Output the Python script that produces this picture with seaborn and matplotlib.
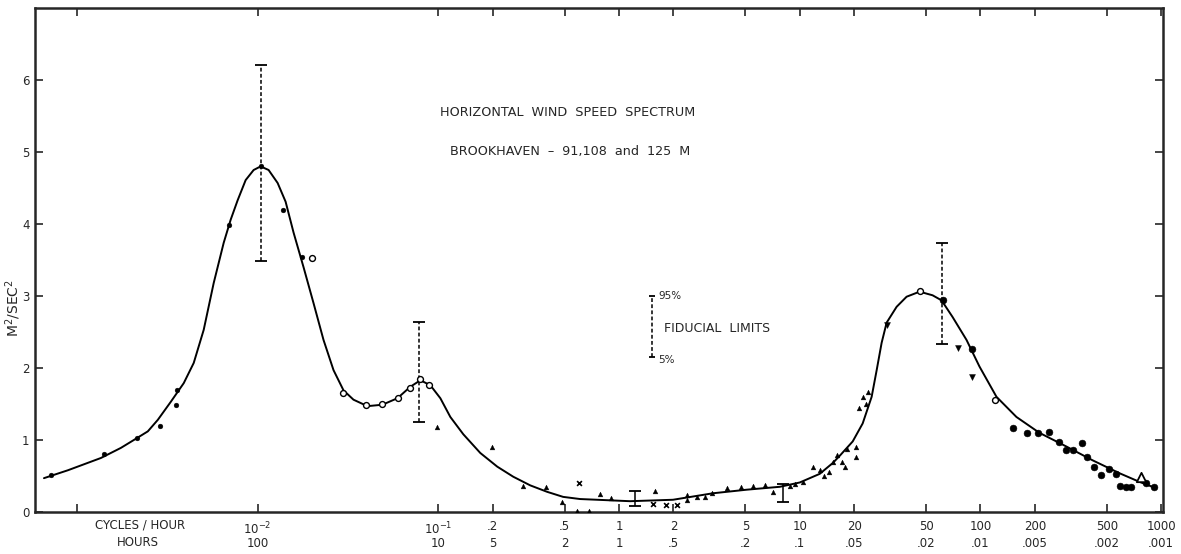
import numpy as np
import pandas as pd
import matplotlib
matplotlib.use('Agg')
import matplotlib.pyplot as plt
from matplotlib.ticker import NullLocator
import seaborn as sns

sns.set_style('ticks')
plt.rcParams['font.family'] = ['DejaVu Sans']

mFont = 8.5

# smooth spectrum curve (cycles/hour, m^2/s^2)
curve_f = [6.57e-4, 8.92e-4, 1.357e-3, 1.750e-3, 2.065e-3, 2.468e-3, 2.803e-3, 3.306e-3,
           3.901e-3, 4.429e-3, 5.030e-3, 5.713e-3, 6.491e-3, 7.094e-3, 7.752e-3, 8.585e-3,
           9.504e-3, 0.01039, 0.01150, 0.01290, 0.01428, 0.01581, 0.01795, 0.02039,
           0.02315, 0.02630, 0.02986, 0.03391, 0.04052, 0.04903, 0.05936, 0.07004,
           0.07956, 0.09033, 0.1026, 0.1165, 0.1374, 0.1706, 0.2118, 0.2597, 0.3224,
           0.4001, 0.4904, 0.6087, 0.7559, 1.150, 1.988, 3.306, 5.095, 7.754, 10.0,
           12.90, 15.22, 16.63, 19.63, 22.29, 24.99, 26.64, 28.38, 30.25, 34.35, 39.01,
           46.03, 54.30, 60.87, 70.01, 83.70, 98.74, 122.6, 158.1, 211.8, 298.6, 415.7,
           586.1, 755.9, 938.4]
curve_s = [0.47, 0.58, 0.75, 0.89, 1.0, 1.12, 1.28, 1.53,
           1.79, 2.07, 2.53, 3.18, 3.74, 4.06, 4.33, 4.61,
           4.75, 4.80, 4.75, 4.57, 4.31, 3.88, 3.40, 2.90,
           2.39, 1.97, 1.69, 1.56, 1.47, 1.49, 1.58, 1.74,
           1.83, 1.76, 1.58, 1.32, 1.08, 0.82, 0.63, 0.49, 0.37,
           0.28, 0.21, 0.18, 0.17, 0.15, 0.17, 0.26, 0.31, 0.35, 0.41,
           0.53, 0.68, 0.78, 0.98, 1.23, 1.60, 1.97, 2.35, 2.63, 2.85, 2.99,
           3.06, 3.01, 2.94, 2.71, 2.39, 2.02, 1.60, 1.32, 1.10, 0.91, 0.72,
           0.54, 0.42, 0.33]

# observed points, by symbol
dot_f = [7.18e-4, 1.41e-3, 2.14e-3, 2.87e-3, 3.52e-3, 3.57e-3, 6.92e-3, 0.0104, 0.0139, 0.0177]
dot_s = [0.51, 0.80, 1.03, 1.19, 1.49, 1.70, 3.99, 4.80, 4.20, 3.54]

open_f = [0.0201, 0.0295, 0.040, 0.049, 0.060, 0.070, 0.0796, 0.0891, 46.0, 121]
open_s = [3.53, 1.65, 1.49, 1.50, 1.58, 1.72, 1.85, 1.76, 3.07, 1.56]

tri_f = [0.0987, 0.199, 0.295, 0.395, 0.484, 0.586, 0.682, 0.785, 0.903, 1.58, 2.38,
         2.38, 2.70, 2.99, 3.27, 3.95, 4.72, 5.50, 6.41, 7.10, 8.81, 9.38, 10.4, 11.9,
         12.9, 13.6, 14.5, 15.2, 16.0, 17.1, 17.9, 18.2, 20.4, 20.6, 21.4, 22.3, 23.4,
         24.0]
tri_s = [1.18, 0.90, 0.36, 0.35, 0.14, 0.02, 0.02, 0.25, 0.19, 0.29, 0.24,
         0.17, 0.21, 0.21, 0.26, 0.33, 0.35, 0.36, 0.37, 0.28, 0.36, 0.39, 0.41, 0.62,
         0.58, 0.50, 0.56, 0.69, 0.79, 0.69, 0.63, 0.87, 0.77, 0.90, 1.44, 1.60, 1.50,
         1.67]

x_f = [0.601, 1.54, 1.82, 2.09]
x_s = [0.40, 0.11, 0.10, 0.10]

down_f = [30.3, 75.5, 90.3]
down_s = [2.60, 2.28, 1.88]

big_f = [61.7, 90.3, 152, 182, 209, 238, 273, 299, 327, 366, 390, 426, 466, 516,
         564, 593, 641, 683, 826, 914]
big_s = [2.94, 2.26, 1.17, 1.10, 1.10, 1.11, 0.97, 0.86, 0.86, 0.96, 0.76, 0.62,
         0.51, 0.60, 0.53, 0.36, 0.35, 0.35, 0.40, 0.35]

otri_f = [776]
otri_s = [0.49]

# fiducial limits
err_f = [0.0104, 0.0785, 61.6]
err_lo = [3.49, 1.25, 2.33]
err_hi = [6.21, 2.64, 3.74]
small_err_f = [1.22, 8.05]
small_err_lo = [0.08, 0.14]
small_err_hi = [0.29, 0.39]
key_f = [1.52]
key_lo = [2.15]
key_hi = [3.0]

tick_f = [1e-3, 1e-2, 0.1, 0.2, 0.5, 1, 2, 5, 10, 20, 50, 100, 200, 500, 1000]
tick_cph = ['', '10$^{-2}$', '10$^{-1}$', '.2', '.5', '1', '2', '5', '10', '20', '50',
            '100', '200', '500', '1000']
tick_hours = ['', '100', '10', '5', '2', '1', '.5', '.2', '.1', '.05', '.02', '.01',
              '.005', '.002', '.001']

fig = plt.figure(figsize=(11.81, 5.54), dpi=100)
ax = fig.add_axes([35/1181, 42/554, 1128/1181, 504/554])

sns.lineplot(x=curve_f, y=curve_s, color='black', lw=1.4, ax=ax, sort=False, estimator=None)

sc = dict(ax=ax, color='black', edgecolor='black', legend=False, zorder=3)
sns.scatterplot(x=dot_f, y=dot_s, marker='o', s=12, **sc)
sns.scatterplot(x=open_f, y=open_s, marker='o', s=18, facecolor='white', linewidth=1.0,
                ax=ax, edgecolor='black', legend=False, zorder=3)
sns.scatterplot(x=tri_f, y=tri_s, marker='^', s=12, **sc)
sns.scatterplot(x=x_f, y=x_s, marker='x', s=12, linewidth=1.2, ax=ax, color='black',
                legend=False, zorder=3)
sns.scatterplot(x=down_f, y=down_s, marker='v', s=18, **sc)
sns.scatterplot(x=big_f, y=big_s, marker='o', s=24, **sc)
sns.scatterplot(x=otri_f, y=otri_s, marker='^', s=45, facecolor='white', linewidth=1.3,
                ax=ax, edgecolor='black', legend=False, zorder=3)

def fid_bars(f, lo, hi, dashed, cap):
    f = np.array(f)
    lo = np.array(lo)
    hi = np.array(hi)
    mid = (lo + hi) / 2
    eb = ax.errorbar(f, mid, yerr=[mid - lo, hi - mid], fmt='none', ecolor='black',
                     elinewidth=1.1, capsize=cap, capthick=1.3, zorder=2)
    if dashed:
        eb[2][0].set_linestyle((0, (2.5, 1.5)))

fid_bars(err_f, err_lo, err_hi, True, 4)
fid_bars(small_err_f, small_err_lo, small_err_hi, False, 4)
fid_bars(key_f, key_lo, key_hi, True, 2.5)

ax.set_xscale('log')
ax.set_xlim(10**-3.232, 10**3.01)
ax.set_ylim(0, 7.0)
ax.xaxis.set_minor_locator(NullLocator())
ax.set_xticks(tick_f)
ax.set_xticklabels(tick_cph, fontsize=mFont)
# second row of labels: period in hours
for f, h in zip(tick_f, tick_hours):
    ax.text(f, -0.062, h, transform=ax.get_xaxis_transform(), fontsize=mFont,
            ha='center', va='center')
ax.set_yticks(range(7))
ax.set_yticklabels([str(i) for i in range(7)], fontsize=mFont)
ax.tick_params(direction='in', top=True, right=True, length=6, width=1.2, pad=4)
ax.tick_params(axis='x', pad=6)
for sp in ax.spines.values():
    sp.set_linewidth(1.8)

ax.set_ylabel('M$^2$/SEC$^2$', fontsize=10)
ax.yaxis.set_label_coords(-0.011, 0.405)
ax.set_xlabel('')

fig.text(140/1181, 1 - 525/554, 'CYCLES / HOUR', fontsize=mFont, ha='center', va='center')
fig.text(138/1181, 1 - 543/554, 'HOURS', fontsize=mFont, ha='center', va='center')

fig.text(568/1181, 1 - 113/554, 'HORIZONTAL  WIND  SPEED  SPECTRUM', fontsize=9.2,
         ha='center', va='center')
fig.text(570/1181, 1 - 152/554, 'BROOKHAVEN  \u2013  91,108  and  125  M', fontsize=9.2,
         ha='center', va='center')
fig.text(658/1181, 1 - 296/554, '95%', fontsize=7.5, ha='left', va='center')
fig.text(658/1181, 1 - 360/554, '5%', fontsize=7.5, ha='left', va='center')
fig.text(664/1181, 1 - 328/554, 'FIDUCIAL  LIMITS', fontsize=9, ha='left', va='center')

plt.savefig('out.png', dpi=100)
